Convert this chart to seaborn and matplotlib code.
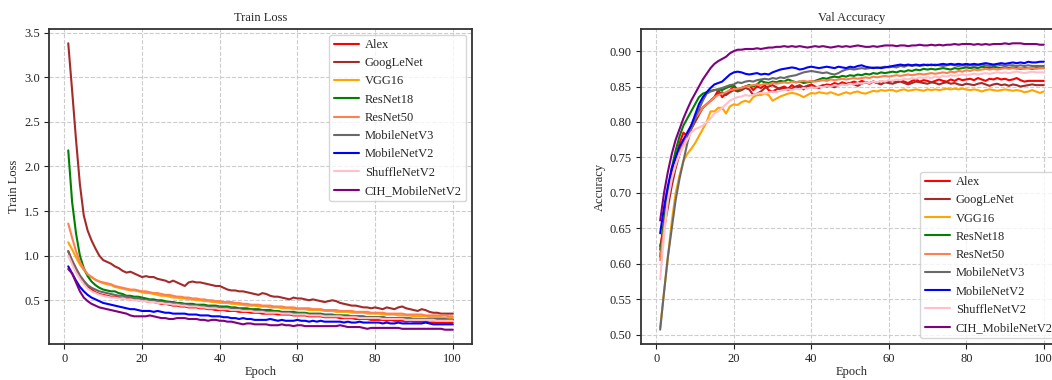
import numpy as np
import pandas as pd
import seaborn as sns
import matplotlib
matplotlib.use('Agg')
import matplotlib.pyplot as plt

epochs = list(range(1, 101))

models = ['Alex', 'GoogLeNet', 'VGG16', 'ResNet18', 'ResNet50',
          'MobileNetV3', 'MobileNetV2', 'ShuffleNetV2', 'CIH_MobileNetV2']
colors = ['red', 'brown', 'orange', 'green', 'coral',
          'dimgray', 'blue', 'pink', 'purple']

# Train Loss pro Epoche
loss_alex = [
    1.05, 0.93, 0.84, 0.76, 0.70, 0.65, 0.62, 0.59, 0.57, 0.56,
    0.55, 0.54, 0.54, 0.53, 0.52, 0.52, 0.51, 0.51, 0.50, 0.50,
    0.49, 0.48, 0.48, 0.47, 0.46, 0.46, 0.45, 0.44, 0.44, 0.43,
    0.43, 0.42, 0.42, 0.42, 0.41, 0.41, 0.40, 0.40, 0.39, 0.39,
    0.39, 0.38, 0.38, 0.38, 0.37, 0.37, 0.37, 0.36, 0.36, 0.36,
    0.35, 0.35, 0.35, 0.35, 0.34, 0.34, 0.34, 0.34, 0.33, 0.33,
    0.33, 0.33, 0.32, 0.32, 0.32, 0.32, 0.31, 0.31, 0.31, 0.31,
    0.30, 0.30, 0.30, 0.30, 0.29, 0.29, 0.29, 0.29, 0.28, 0.28,
    0.28, 0.28, 0.27, 0.28, 0.27, 0.27, 0.27, 0.26, 0.27, 0.26,
    0.26, 0.26, 0.26, 0.25, 0.25, 0.25, 0.25, 0.25, 0.25, 0.25]
loss_googlenet = [
    3.38, 2.85, 2.30, 1.80, 1.45, 1.28, 1.17, 1.08, 1.00, 0.95,
    0.93, 0.91, 0.88, 0.86, 0.83, 0.81, 0.82, 0.80, 0.78, 0.76,
    0.77, 0.76, 0.76, 0.74, 0.73, 0.72, 0.70, 0.72, 0.70, 0.68,
    0.66, 0.70, 0.71, 0.70, 0.70, 0.69, 0.68, 0.67, 0.66, 0.66,
    0.64, 0.62, 0.61, 0.61, 0.60, 0.60, 0.59, 0.58, 0.57, 0.56,
    0.58, 0.57, 0.55, 0.54, 0.54, 0.53, 0.52, 0.51, 0.53, 0.52,
    0.52, 0.51, 0.50, 0.51, 0.50, 0.49, 0.48, 0.49, 0.50, 0.49,
    0.47, 0.46, 0.45, 0.44, 0.44, 0.43, 0.42, 0.42, 0.41, 0.42,
    0.41, 0.40, 0.42, 0.41, 0.40, 0.42, 0.43, 0.41, 0.40, 0.39,
    0.38, 0.40, 0.39, 0.37, 0.36, 0.36, 0.35, 0.35, 0.35, 0.35]
loss_vgg16 = [
    1.15, 1.07, 0.98, 0.90, 0.84, 0.79, 0.76, 0.73, 0.71, 0.69,
    0.68, 0.67, 0.65, 0.64, 0.63, 0.62, 0.61, 0.61, 0.60, 0.59,
    0.58, 0.58, 0.57, 0.56, 0.55, 0.55, 0.54, 0.53, 0.53, 0.52,
    0.52, 0.51, 0.51, 0.50, 0.50, 0.49, 0.49, 0.48, 0.48, 0.47,
    0.47, 0.47, 0.46, 0.46, 0.45, 0.45, 0.44, 0.44, 0.44, 0.43,
    0.43, 0.43, 0.42, 0.42, 0.42, 0.41, 0.41, 0.41, 0.40, 0.40,
    0.40, 0.40, 0.39, 0.39, 0.39, 0.39, 0.38, 0.38, 0.38, 0.37,
    0.37, 0.37, 0.37, 0.36, 0.36, 0.36, 0.36, 0.35, 0.35, 0.35,
    0.35, 0.34, 0.34, 0.34, 0.34, 0.33, 0.33, 0.33, 0.33, 0.32,
    0.32, 0.32, 0.32, 0.31, 0.31, 0.31, 0.31, 0.30, 0.30, 0.30]
loss_resnet18 = [
    2.18, 1.60, 1.25, 1.00, 0.86, 0.77, 0.71, 0.67, 0.64, 0.62,
    0.61, 0.60, 0.60, 0.58, 0.57, 0.55, 0.55, 0.54, 0.54, 0.53,
    0.52, 0.51, 0.51, 0.50, 0.50, 0.49, 0.48, 0.48, 0.47, 0.47,
    0.46, 0.46, 0.46, 0.45, 0.45, 0.45, 0.44, 0.44, 0.44, 0.43,
    0.43, 0.43, 0.42, 0.42, 0.41, 0.41, 0.41, 0.40, 0.40, 0.40,
    0.39, 0.39, 0.39, 0.38, 0.38, 0.37, 0.37, 0.37, 0.37, 0.36,
    0.36, 0.36, 0.35, 0.35, 0.35, 0.35, 0.34, 0.34, 0.34, 0.33,
    0.33, 0.33, 0.33, 0.32, 0.32, 0.32, 0.32, 0.31, 0.31, 0.31,
    0.31, 0.31, 0.30, 0.30, 0.30, 0.30, 0.30, 0.29, 0.29, 0.29,
    0.29, 0.29, 0.28, 0.29, 0.28, 0.28, 0.28, 0.28, 0.28, 0.28]
loss_resnet50 = [
    1.36, 1.20, 1.05, 0.93, 0.85, 0.79, 0.76, 0.73, 0.71, 0.70,
    0.69, 0.68, 0.66, 0.65, 0.64, 0.63, 0.62, 0.62, 0.61, 0.60,
    0.60, 0.59, 0.58, 0.58, 0.57, 0.56, 0.56, 0.55, 0.54, 0.54,
    0.53, 0.53, 0.52, 0.52, 0.51, 0.51, 0.50, 0.50, 0.49, 0.49,
    0.48, 0.48, 0.48, 0.47, 0.47, 0.46, 0.46, 0.45, 0.45, 0.45,
    0.44, 0.44, 0.44, 0.43, 0.43, 0.43, 0.42, 0.42, 0.42, 0.41,
    0.41, 0.41, 0.41, 0.40, 0.40, 0.40, 0.39, 0.39, 0.39, 0.39,
    0.38, 0.38, 0.38, 0.38, 0.37, 0.37, 0.37, 0.37, 0.36, 0.36,
    0.36, 0.36, 0.35, 0.35, 0.35, 0.35, 0.35, 0.34, 0.34, 0.34,
    0.34, 0.34, 0.33, 0.33, 0.33, 0.33, 0.33, 0.33, 0.32, 0.32]
loss_mobilenetv3 = [
    1.05, 0.95, 0.86, 0.78, 0.72, 0.67, 0.64, 0.62, 0.60, 0.59,
    0.58, 0.57, 0.56, 0.55, 0.55, 0.54, 0.53, 0.52, 0.52, 0.51,
    0.50, 0.50, 0.49, 0.49, 0.48, 0.48, 0.47, 0.47, 0.46, 0.46,
    0.45, 0.45, 0.44, 0.44, 0.44, 0.43, 0.43, 0.42, 0.42, 0.42,
    0.41, 0.41, 0.41, 0.40, 0.40, 0.39, 0.39, 0.39, 0.38, 0.38,
    0.38, 0.37, 0.37, 0.37, 0.36, 0.36, 0.36, 0.36, 0.35, 0.35,
    0.35, 0.35, 0.34, 0.34, 0.34, 0.34, 0.33, 0.33, 0.33, 0.33,
    0.33, 0.32, 0.32, 0.32, 0.32, 0.32, 0.31, 0.31, 0.31, 0.31,
    0.31, 0.31, 0.30, 0.30, 0.30, 0.30, 0.30, 0.30, 0.30, 0.29,
    0.29, 0.29, 0.29, 0.29, 0.29, 0.29, 0.29, 0.29, 0.28, 0.28]
loss_mobilenetv2 = [
    0.88, 0.80, 0.72, 0.65, 0.60, 0.56, 0.53, 0.51, 0.49, 0.47,
    0.46, 0.45, 0.44, 0.43, 0.42, 0.41, 0.40, 0.40, 0.39, 0.38,
    0.38, 0.38, 0.37, 0.38, 0.37, 0.36, 0.36, 0.35, 0.35, 0.35,
    0.35, 0.34, 0.34, 0.34, 0.33, 0.33, 0.33, 0.32, 0.32, 0.32,
    0.31, 0.31, 0.30, 0.30, 0.29, 0.30, 0.29, 0.29, 0.28, 0.28,
    0.28, 0.28, 0.29, 0.28, 0.27, 0.28, 0.27, 0.27, 0.27, 0.28,
    0.27, 0.27, 0.26, 0.27, 0.26, 0.27, 0.26, 0.26, 0.26, 0.26,
    0.26, 0.25, 0.26, 0.25, 0.25, 0.26, 0.25, 0.25, 0.25, 0.25,
    0.25, 0.24, 0.25, 0.24, 0.24, 0.25, 0.24, 0.24, 0.24, 0.24,
    0.24, 0.24, 0.25, 0.24, 0.23, 0.23, 0.23, 0.23, 0.23, 0.23]
loss_shufflenetv2 = [
    1.00, 0.90, 0.81, 0.74, 0.68, 0.63, 0.60, 0.58, 0.56, 0.55,
    0.54, 0.53, 0.53, 0.52, 0.52, 0.51, 0.51, 0.50, 0.50, 0.49,
    0.49, 0.48, 0.48, 0.47, 0.47, 0.46, 0.46, 0.45, 0.45, 0.44,
    0.44, 0.43, 0.43, 0.43, 0.42, 0.42, 0.41, 0.41, 0.41, 0.40,
    0.40, 0.40, 0.39, 0.39, 0.39, 0.38, 0.38, 0.38, 0.37, 0.37,
    0.37, 0.36, 0.36, 0.36, 0.36, 0.35, 0.35, 0.35, 0.34, 0.34,
    0.34, 0.34, 0.33, 0.33, 0.33, 0.33, 0.32, 0.32, 0.32, 0.32,
    0.32, 0.31, 0.31, 0.31, 0.31, 0.30, 0.30, 0.30, 0.30, 0.30,
    0.30, 0.29, 0.29, 0.29, 0.29, 0.29, 0.29, 0.28, 0.28, 0.28,
    0.28, 0.28, 0.28, 0.28, 0.28, 0.27, 0.27, 0.27, 0.27, 0.27]
loss_cih = [
    0.85, 0.80, 0.70, 0.60, 0.53, 0.49, 0.46, 0.44, 0.42, 0.41,
    0.40, 0.39, 0.38, 0.37, 0.36, 0.35, 0.33, 0.32, 0.32, 0.32,
    0.32, 0.33, 0.32, 0.31, 0.30, 0.30, 0.29, 0.29, 0.30, 0.30,
    0.30, 0.29, 0.29, 0.29, 0.28, 0.28, 0.27, 0.28, 0.28, 0.27,
    0.27, 0.26, 0.26, 0.25, 0.24, 0.23, 0.24, 0.24, 0.23, 0.23,
    0.23, 0.23, 0.22, 0.22, 0.22, 0.23, 0.22, 0.22, 0.21, 0.22,
    0.22, 0.21, 0.21, 0.21, 0.21, 0.21, 0.21, 0.21, 0.21, 0.21,
    0.22, 0.21, 0.20, 0.20, 0.20, 0.20, 0.19, 0.18, 0.19, 0.19,
    0.19, 0.19, 0.19, 0.19, 0.19, 0.19, 0.18, 0.18, 0.18, 0.18,
    0.18, 0.18, 0.18, 0.18, 0.18, 0.18, 0.18, 0.17, 0.17, 0.17]

# Val Accuracy pro Epoche
acc_alex = [
    0.620, 0.660, 0.700, 0.730, 0.750, 0.770, 0.785, 0.780, 0.795, 0.805,
    0.815, 0.820, 0.825, 0.830, 0.835, 0.845, 0.835, 0.840, 0.845, 0.850,
    0.845, 0.848, 0.850, 0.852, 0.845, 0.850, 0.848, 0.852, 0.845, 0.843,
    0.846, 0.848, 0.850, 0.847, 0.852, 0.848, 0.850, 0.846, 0.851, 0.853,
    0.850, 0.848, 0.851, 0.853, 0.852, 0.855, 0.853, 0.856, 0.854, 0.855,
    0.857, 0.855, 0.858, 0.856, 0.854, 0.857, 0.855, 0.858, 0.856, 0.857,
    0.858, 0.856, 0.859, 0.857, 0.855, 0.858, 0.860, 0.857, 0.859, 0.858,
    0.856, 0.858, 0.860, 0.858, 0.857, 0.860, 0.858, 0.861, 0.859, 0.860,
    0.861, 0.859, 0.862, 0.860, 0.858, 0.861, 0.860, 0.862, 0.860, 0.861,
    0.859, 0.860, 0.862, 0.859, 0.857, 0.858, 0.858, 0.858, 0.858, 0.858]
acc_googlenet = [
    0.625, 0.650, 0.680, 0.710, 0.735, 0.755, 0.775, 0.780, 0.790, 0.800,
    0.810, 0.820, 0.825, 0.830, 0.835, 0.840, 0.842, 0.838, 0.842, 0.845,
    0.843, 0.845, 0.848, 0.846, 0.838, 0.840, 0.843, 0.848, 0.850, 0.852,
    0.849, 0.846, 0.848, 0.845, 0.847, 0.850, 0.852, 0.849, 0.851, 0.850,
    0.848, 0.850, 0.852, 0.850, 0.851, 0.849, 0.852, 0.854, 0.852, 0.855,
    0.853, 0.851, 0.854, 0.856, 0.855, 0.857, 0.855, 0.853, 0.856, 0.855,
    0.854, 0.856, 0.857, 0.855, 0.853, 0.855, 0.857, 0.856, 0.855, 0.854,
    0.856, 0.855, 0.853, 0.855, 0.856, 0.854, 0.855, 0.853, 0.852, 0.854,
    0.853, 0.852, 0.854, 0.855, 0.853, 0.851, 0.853, 0.854, 0.852, 0.853,
    0.851, 0.853, 0.852, 0.850, 0.851, 0.852, 0.853, 0.852, 0.852, 0.852]
acc_vgg16 = [
    0.510, 0.560, 0.610, 0.660, 0.700, 0.725, 0.745, 0.755, 0.762, 0.770,
    0.780, 0.790, 0.800, 0.815, 0.815, 0.820, 0.820, 0.812, 0.822, 0.825,
    0.824, 0.828, 0.830, 0.828, 0.835, 0.838, 0.838, 0.840, 0.838, 0.830,
    0.833, 0.836, 0.838, 0.840, 0.841, 0.840, 0.838, 0.835, 0.838, 0.841,
    0.840, 0.842, 0.841, 0.840, 0.842, 0.840, 0.838, 0.840, 0.842, 0.840,
    0.842, 0.843, 0.841, 0.840, 0.842, 0.844, 0.843, 0.845, 0.844, 0.845,
    0.845, 0.843, 0.845, 0.846, 0.844, 0.845, 0.846, 0.845, 0.844, 0.846,
    0.845, 0.846, 0.845, 0.846, 0.847, 0.846, 0.847, 0.846, 0.847, 0.846,
    0.845, 0.846, 0.845, 0.843, 0.845, 0.846, 0.845, 0.844, 0.845, 0.846,
    0.845, 0.844, 0.845, 0.844, 0.842, 0.843, 0.845, 0.843, 0.841, 0.843]
acc_resnet18 = [
    0.610, 0.660, 0.700, 0.735, 0.760, 0.780, 0.795, 0.805, 0.815, 0.825,
    0.835, 0.840, 0.842, 0.844, 0.845, 0.846, 0.845, 0.848, 0.850, 0.852,
    0.845, 0.848, 0.850, 0.852, 0.850, 0.853, 0.858, 0.856, 0.855, 0.857,
    0.856, 0.858, 0.857, 0.860, 0.858, 0.856, 0.857, 0.855, 0.856, 0.857,
    0.858, 0.860, 0.862, 0.861, 0.863, 0.864, 0.863, 0.865, 0.864, 0.866,
    0.865, 0.867, 0.866, 0.868, 0.867, 0.869, 0.868, 0.870, 0.869, 0.870,
    0.871, 0.870, 0.872, 0.871, 0.873, 0.872, 0.874, 0.873, 0.875, 0.874,
    0.875, 0.874, 0.875, 0.876, 0.875, 0.874, 0.876, 0.875, 0.876, 0.877,
    0.876, 0.877, 0.876, 0.878, 0.877, 0.876, 0.878, 0.877, 0.876, 0.877,
    0.876, 0.877, 0.876, 0.875, 0.876, 0.876, 0.875, 0.876, 0.876, 0.876]
acc_resnet50 = [
    0.605, 0.650, 0.690, 0.720, 0.740, 0.755, 0.770, 0.785, 0.795, 0.805,
    0.812, 0.820, 0.825, 0.830, 0.835, 0.838, 0.840, 0.842, 0.845, 0.846,
    0.847, 0.848, 0.850, 0.851, 0.852, 0.853, 0.852, 0.854, 0.853, 0.855,
    0.854, 0.855, 0.856, 0.855, 0.857, 0.856, 0.857, 0.858, 0.857, 0.858,
    0.857, 0.858, 0.859, 0.858, 0.860, 0.859, 0.860, 0.861, 0.860, 0.861,
    0.862, 0.861, 0.862, 0.863, 0.862, 0.864, 0.863, 0.864, 0.865, 0.864,
    0.865, 0.866, 0.865, 0.866, 0.867, 0.866, 0.867, 0.868, 0.867, 0.868,
    0.869, 0.868, 0.869, 0.870, 0.869, 0.871, 0.870, 0.872, 0.871, 0.873,
    0.872, 0.874, 0.873, 0.874, 0.875, 0.874, 0.875, 0.874, 0.875, 0.876,
    0.875, 0.876, 0.875, 0.876, 0.875, 0.876, 0.876, 0.875, 0.876, 0.876]
acc_mobilenetv3 = [
    0.507, 0.560, 0.610, 0.650, 0.690, 0.720, 0.745, 0.770, 0.790, 0.805,
    0.818, 0.830, 0.840, 0.843, 0.845, 0.846, 0.848, 0.850, 0.852, 0.853,
    0.856, 0.855, 0.857, 0.858, 0.857, 0.859, 0.860, 0.861, 0.860, 0.862,
    0.861, 0.863, 0.862, 0.864, 0.865, 0.866, 0.868, 0.870, 0.871, 0.872,
    0.871, 0.870, 0.869, 0.870, 0.868, 0.867, 0.869, 0.872, 0.874, 0.875,
    0.874, 0.875, 0.876, 0.875, 0.876, 0.877, 0.876, 0.877, 0.878, 0.877,
    0.878, 0.877, 0.879, 0.878, 0.880, 0.879, 0.880, 0.879, 0.880, 0.881,
    0.880, 0.881, 0.880, 0.879, 0.880, 0.881, 0.880, 0.879, 0.880, 0.879,
    0.880, 0.879, 0.880, 0.881, 0.880, 0.879, 0.880, 0.881, 0.880, 0.879,
    0.880, 0.880, 0.879, 0.880, 0.879, 0.880, 0.879, 0.879, 0.879, 0.879]
acc_mobilenetv2 = [
    0.643, 0.680, 0.710, 0.735, 0.750, 0.765, 0.775, 0.785, 0.795, 0.810,
    0.825, 0.835, 0.842, 0.848, 0.853, 0.855, 0.857, 0.862, 0.867, 0.870,
    0.871, 0.870, 0.868, 0.867, 0.868, 0.869, 0.867, 0.868, 0.867, 0.870,
    0.872, 0.874, 0.875, 0.876, 0.877, 0.876, 0.874, 0.875, 0.877, 0.878,
    0.877, 0.876, 0.877, 0.878, 0.877, 0.876, 0.878, 0.877, 0.876, 0.878,
    0.877, 0.879, 0.880, 0.878, 0.877, 0.876, 0.877, 0.876, 0.877, 0.878,
    0.879, 0.880, 0.881, 0.880, 0.881, 0.880, 0.881, 0.880, 0.881, 0.880,
    0.881, 0.880, 0.881, 0.882, 0.881, 0.882, 0.881, 0.882, 0.881, 0.882,
    0.881, 0.882, 0.881, 0.882, 0.883, 0.882, 0.881, 0.882, 0.883, 0.882,
    0.883, 0.884, 0.883, 0.884, 0.883, 0.885, 0.884, 0.884, 0.885, 0.885]
acc_shufflenetv2 = [
    0.578, 0.640, 0.690, 0.720, 0.740, 0.755, 0.765, 0.775, 0.785, 0.790,
    0.792, 0.795, 0.800, 0.805, 0.812, 0.815, 0.820, 0.825, 0.830, 0.833,
    0.835, 0.836, 0.838, 0.837, 0.838, 0.840, 0.841, 0.840, 0.842, 0.843,
    0.842, 0.844, 0.845, 0.846, 0.845, 0.847, 0.846, 0.848, 0.847, 0.849,
    0.848, 0.850, 0.849, 0.851, 0.850, 0.852, 0.851, 0.853, 0.852, 0.854,
    0.853, 0.855, 0.854, 0.856, 0.855, 0.857, 0.856, 0.858, 0.857, 0.859,
    0.858, 0.860, 0.859, 0.861, 0.860, 0.862, 0.861, 0.863, 0.862, 0.863,
    0.862, 0.864, 0.863, 0.865, 0.864, 0.866, 0.865, 0.866, 0.867, 0.866,
    0.867, 0.868, 0.867, 0.868, 0.869, 0.868, 0.869, 0.870, 0.869, 0.870,
    0.869, 0.870, 0.871, 0.870, 0.869, 0.870, 0.871, 0.870, 0.870, 0.870]
acc_cih = [
    0.661, 0.700, 0.730, 0.755, 0.775, 0.790, 0.805, 0.818, 0.830, 0.840,
    0.850, 0.860, 0.868, 0.876, 0.882, 0.886, 0.889, 0.892, 0.897, 0.900,
    0.902, 0.902, 0.903, 0.903, 0.903, 0.904, 0.903, 0.904, 0.905, 0.905,
    0.906, 0.906, 0.907, 0.906, 0.907, 0.906, 0.907, 0.906, 0.905, 0.906,
    0.907, 0.906, 0.907, 0.906, 0.905, 0.906, 0.907, 0.906, 0.907, 0.906,
    0.907, 0.908, 0.907, 0.906, 0.906, 0.907, 0.906, 0.907, 0.908, 0.908,
    0.908, 0.907, 0.908, 0.908, 0.907, 0.908, 0.908, 0.909, 0.908, 0.908,
    0.909, 0.908, 0.909, 0.908, 0.909, 0.909, 0.910, 0.909, 0.910, 0.910,
    0.910, 0.909, 0.910, 0.909, 0.910, 0.909, 0.910, 0.910, 0.910, 0.911,
    0.910, 0.911, 0.911, 0.911, 0.910, 0.910, 0.910, 0.910, 0.909, 0.909]

loss_series = [loss_alex, loss_googlenet, loss_vgg16, loss_resnet18, loss_resnet50,
               loss_mobilenetv3, loss_mobilenetv2, loss_shufflenetv2, loss_cih]
acc_series = [acc_alex, acc_googlenet, acc_vgg16, acc_resnet18, acc_resnet50,
              acc_mobilenetv3, acc_mobilenetv2, acc_shufflenetv2, acc_cih]


def to_long(series, value_name):
    # Baue einen langen DataFrame fuer seaborn
    frames = []
    for name, vals in zip(models, series):
        frames.append(pd.DataFrame({'Epoch': epochs, value_name: vals, 'Model': name}))
    return pd.concat(frames, ignore_index=True)


df_loss = to_long(loss_series, 'Train Loss')
df_acc = to_long(acc_series, 'Accuracy')

sns.set_style('whitegrid', {
    'grid.linestyle': '--',
    'grid.color': '#cccccc',
    'axes.edgecolor': '#333333',
    'xtick.bottom': True,
    'ytick.left': True,
})
plt.rcParams['font.family'] = ['Liberation Serif', 'DejaVu Serif']
plt.rcParams['axes.linewidth'] = 1.3
plt.rcParams['grid.linewidth'] = 0.8
plt.rcParams['xtick.major.size'] = 3.5
plt.rcParams['ytick.major.size'] = 3.5
plt.rcParams['xtick.color'] = '#222222'
plt.rcParams['ytick.color'] = '#222222'

fig = plt.figure(figsize=(10.52, 3.8), dpi=100)
ax1 = fig.add_axes([0.0466, 0.0947, 0.402, 0.829])
ax2 = fig.add_axes([0.6093, 0.0947, 0.4011, 0.829])

palette = dict(zip(models, colors))

sns.lineplot(data=df_loss, x='Epoch', y='Train Loss', hue='Model',
             palette=palette, linewidth=1.5, ax=ax1)
sns.lineplot(data=df_acc, x='Epoch', y='Accuracy', hue='Model',
             palette=palette, linewidth=1.5, ax=ax2)

for ax, title, loc in [(ax1, 'Train Loss', 'upper right'), (ax2, 'Val Accuracy', 'lower right')]:
    ax.set_title(title, fontsize=9, pad=6)
    ax.set_xlabel('Epoch', fontsize=9, labelpad=1)
    ax.set_ylabel(ax.get_ylabel(), fontsize=9, labelpad=3)
    ax.tick_params(labelsize=9, pad=3)
    ax.set_xticks([0, 20, 40, 60, 80, 100])
    ax.legend(loc=loc, fontsize=9, title=None, borderpad=0.35,
              handletextpad=0.5, borderaxespad=0.45)
    for s in ax.spines.values():
        s.set_color('#333333')

ax1.set_yticks([0.5, 1.0, 1.5, 2.0, 2.5, 3.0, 3.5])
ax2.set_yticks([0.50, 0.55, 0.60, 0.65, 0.70, 0.75, 0.80, 0.85, 0.90])
ax2.yaxis.set_major_formatter(matplotlib.ticker.FormatStrFormatter('%.2f'))

fig.savefig('out.png', dpi=100)
